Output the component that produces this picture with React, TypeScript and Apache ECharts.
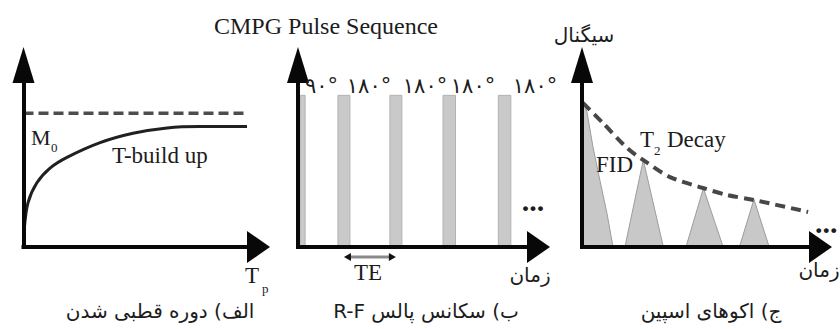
import React, { useEffect, useRef } from 'react';
import * as echarts from 'echarts';

// Panel A: polarisation (build-up) curve
const buildUpTime = [0, 0.02, 0.19, 0.57, 1.13, 1.85, 3.26, 4.66, 6.11, 7.51, 9.51];
const buildUpSignal = [0, 0.11, 0.33, 0.48, 0.59, 0.67, 0.78, 0.85, 0.89, 0.9, 0.9];
const m0Time = [0, 9.55];
const m0Level = 1;

// Panel B: CPMG RF pulses
const pulseTime = [0.19, 1.91, 4.07, 6.29, 8.59];
const pulseWidth = [0.21, 0.5, 0.5, 0.52, 0.52];
const pulseAmp = [1, 1, 1, 1, 1];
const pulseLabels = ['۹۰°', '۱۸۰°', '۱۸۰°', '۱۸۰°', '۱۸۰°'];
const teSpan = [1.91, 4.07];
const teLevel = -0.066;

// Panel C: spin echoes
const fidTime = [0, 0.21, 0.46, 0.75, 1.05, 1.3];
const fidSignal = [0.99, 0.89, 0.66, 0.44, 0.22, 0];
const echoTimes = [
  [1.8, 2.57, 3.41],
  [4.36, 5.09, 5.92],
  [6.6, 7.21, 7.85],
];
const echoSignals = [
  [0, 0.574, 0],
  [0, 0.387, 0],
  [0, 0.314, 0],
];
const decayTime = [0.04, 0.88, 1.89, 2.56, 3.69, 5.07, 6.08, 7.21, 9.48];
const decaySignal = [0.95, 0.817, 0.653, 0.574, 0.461, 0.389, 0.343, 0.31, 0.231];

const SERIF = '"Liberation Serif", "Times New Roman", serif';
const FA = '"DejaVu Sans", "Noto Sans", sans-serif';
const INK = '#1c1c1c';

const zip = (a: number[], b: number[]) => a.map((v, i) => [v, b[i]]);

function txt(x: number, y: number, text: string, size: number, family: string, align = 'left', extra: any = {}) {
  return {
    type: 'text',
    x,
    y,
    silent: true,
    z: 50,
    style: {
      text,
      fill: INK,
      fontSize: size,
      fontFamily: family,
      font: `${extra.fontWeight || 'normal'} ${size}px ${family}`,
      align,
      textAlign: align,
      verticalAlign: 'middle',
      textVerticalAlign: 'middle',
      ...extra,
    },
  };
}

const axisLine = (size: number[]) => ({
  show: true,
  onZero: false,
  symbol: ['none', 'triangle'],
  symbolSize: size,
  lineStyle: { color: '#080808', width: 4, cap: 'square' },
});

const mkX = (i: number) => ({
  gridIndex: i,
  type: 'value',
  min: 0,
  max: 10,
  z: 5,
  axisLine: axisLine([32, 23]),
  axisTick: { show: false },
  axisLabel: { show: false },
  splitLine: { show: false },
});
const mkY = (i: number, max: number) => ({
  gridIndex: i,
  type: 'value',
  min: 0,
  max,
  z: 5,
  axisLine: axisLine([22, 36]),
  axisTick: { show: false },
  axisLabel: { show: false },
  splitLine: { show: false },
});

export default function App() {
  const ref = useRef<HTMLDivElement>(null);
  useEffect(() => {
    if (!ref.current) return;
    const chart = echarts.init(ref.current, null, { renderer: 'svg' });
    const labelX = [321.5, 369, 425, 473, 535];
    const option: any = {
      animation: false,
      backgroundColor: '#ffffff',
      grid: [
        { left: 23.5, top: 65, width: 235, height: 182, outerBoundsMode: 'none' },
        { left: 298, top: 65, width: 240.5, height: 182, outerBoundsMode: 'none' },
        { left: 582, top: 65, width: 238.5, height: 182, outerBoundsMode: 'none' },
      ],
      xAxis: [mkX(0), mkX(1), mkX(2)],
      yAxis: [mkY(0, 1.36), mkY(1, 1.2), mkY(2, 1.2)],
      series: [
        {
          type: 'line',
          xAxisIndex: 0,
          yAxisIndex: 0,
          data: zip(buildUpTime, buildUpSignal),
          smooth: 0.35,
          symbol: 'none',
          silent: true,
          lineStyle: { color: '#202020', width: 3 },
          z: 3,
        },
        {
          type: 'line',
          xAxisIndex: 0,
          yAxisIndex: 0,
          data: m0Time.map((t) => [t, m0Level]),
          symbol: 'none',
          silent: true,
          lineStyle: { color: '#4d4d4d', width: 3.5, type: [10, 5] },
          z: 3,
        },
        {
          type: 'custom',
          xAxisIndex: 1,
          yAxisIndex: 1,
          silent: true,
          encode: { x: 0, y: 1 },
          data: pulseTime.map((t, i) => [t, pulseAmp[i], pulseWidth[i]]),
          renderItem: (params: any, api: any) => {
            const x = api.value(0);
            const h = api.value(1);
            const w = api.value(2);
            const a = api.coord([x - w / 2, h]);
            const b = api.coord([x + w / 2, 0]);
            return {
              type: 'rect',
              shape: { x: a[0], y: a[1], width: b[0] - a[0], height: b[1] - a[1] },
              style: { fill: '#c9c9c9', stroke: '#b3b3b3', lineWidth: 1 },
            };
          },
          z: 2,
        },
        {
          type: 'custom',
          xAxisIndex: 1,
          yAxisIndex: 1,
          silent: true,
          encode: { x: [0, 1], y: 2 },
          data: [[teSpan[0], teSpan[1], teLevel]],
          renderItem: (params: any, api: any) => {
            const p1 = api.coord([api.value(0), api.value(2)]);
            const p2 = api.coord([api.value(1), api.value(2)]);
            const y = p1[1];
            return {
              type: 'group',
              children: [
                {
                  type: 'line',
                  shape: { x1: p1[0] + 4, y1: y, x2: p2[0] - 4, y2: y },
                  style: { stroke: '#8a8a8a', lineWidth: 3 },
                },
                {
                  type: 'polygon',
                  shape: { points: [[p1[0], y], [p1[0] + 7, y - 4], [p1[0] + 7, y + 4]] },
                  style: { fill: '#111' },
                },
                {
                  type: 'polygon',
                  shape: { points: [[p2[0], y], [p2[0] - 7, y - 4], [p2[0] - 7, y + 4]] },
                  style: { fill: '#111' },
                },
              ],
            };
          },
          z: 3,
        },
        {
          type: 'line',
          xAxisIndex: 2,
          yAxisIndex: 2,
          data: zip(fidTime, fidSignal),
          symbol: 'none',
          silent: true,
          lineStyle: { color: '#9c9c9c', width: 1 },
          areaStyle: { color: '#c8c8c8', opacity: 1 },
          z: 2,
        },
        ...echoTimes.map((ts, k) => ({
          type: 'line',
          xAxisIndex: 2,
          yAxisIndex: 2,
          data: zip(ts, echoSignals[k]),
          symbol: 'none',
          silent: true,
          lineStyle: { color: '#9c9c9c', width: 1 },
          areaStyle: { color: '#c8c8c8', opacity: 1 },
          z: 2,
        })),
        {
          type: 'line',
          xAxisIndex: 2,
          yAxisIndex: 2,
          data: zip(decayTime, decaySignal),
          smooth: 0.3,
          symbol: 'none',
          silent: true,
          lineStyle: { color: '#474747', width: 4, type: [10, 6] },
          z: 4,
        },
      ],
      graphic: [
        txt(326, 26, 'CMPG Pulse Sequence', 24, SERIF, 'center'),
        // panel A
        txt(31, 137, 'M', 22, SERIF),
        txt(51, 147, '0', 13, SERIF),
        txt(112, 155, 'T-build up', 23, SERIF),
        txt(245, 275, 'T', 23, SERIF),
        txt(262, 288, 'p', 13, SERIF),
        txt(160, 311, 'الف) دوره قطبی شدن', 20, FA, 'center'),
        // panel B
        ...pulseLabels.map((s, i) => txt(labelX[i], 86, s, 21, FA, 'center')),
        txt(533, 200, '...', 30, SERIF, 'center', { fontWeight: 'bold' }),
        txt(368, 272, 'TE', 23, SERIF, 'center'),
        txt(530, 275, 'زمان', 20, FA, 'center'),
        txt(426, 311, 'ب) سکانس پالس R-F', 20, FA, 'center'),
        // panel C
        txt(584, 35, 'سیگنال', 20, FA, 'center'),
        txt(640, 139, 'T', 23, SERIF),
        txt(654, 150, '2', 13, SERIF),
        txt(667, 139, 'Decay', 23, SERIF),
        txt(596, 164, 'FID', 23, SERIF),
        txt(815, 222, '...', 30, SERIF, 'left', { fontWeight: 'bold' }),
        txt(819, 270, 'زمان', 20, FA, 'center'),
        txt(711, 311, 'ج) اکوهای اسپین', 20, FA, 'center'),
      ],
    };
    chart.setOption(option);
    const fix = () => {
      ref.current?.querySelectorAll('text').forEach((t) => {
        if (/[\u0621-\u064A\u067E\u0686\u0698\u06A9\u06AF\u06CC]/.test(t.textContent || '')) {
          t.setAttribute('direction', 'rtl');
          (t as any).style.direction = 'rtl';
        }
      });
    };
    fix();
    chart.on('finished', fix);
    return () => chart.dispose();
  }, []);
  return (
    <div
      ref={ref}
      style={{ position: 'fixed', left: 0, top: 0, width: 840, height: 329, background: '#fff' }}
    />
  );
}
